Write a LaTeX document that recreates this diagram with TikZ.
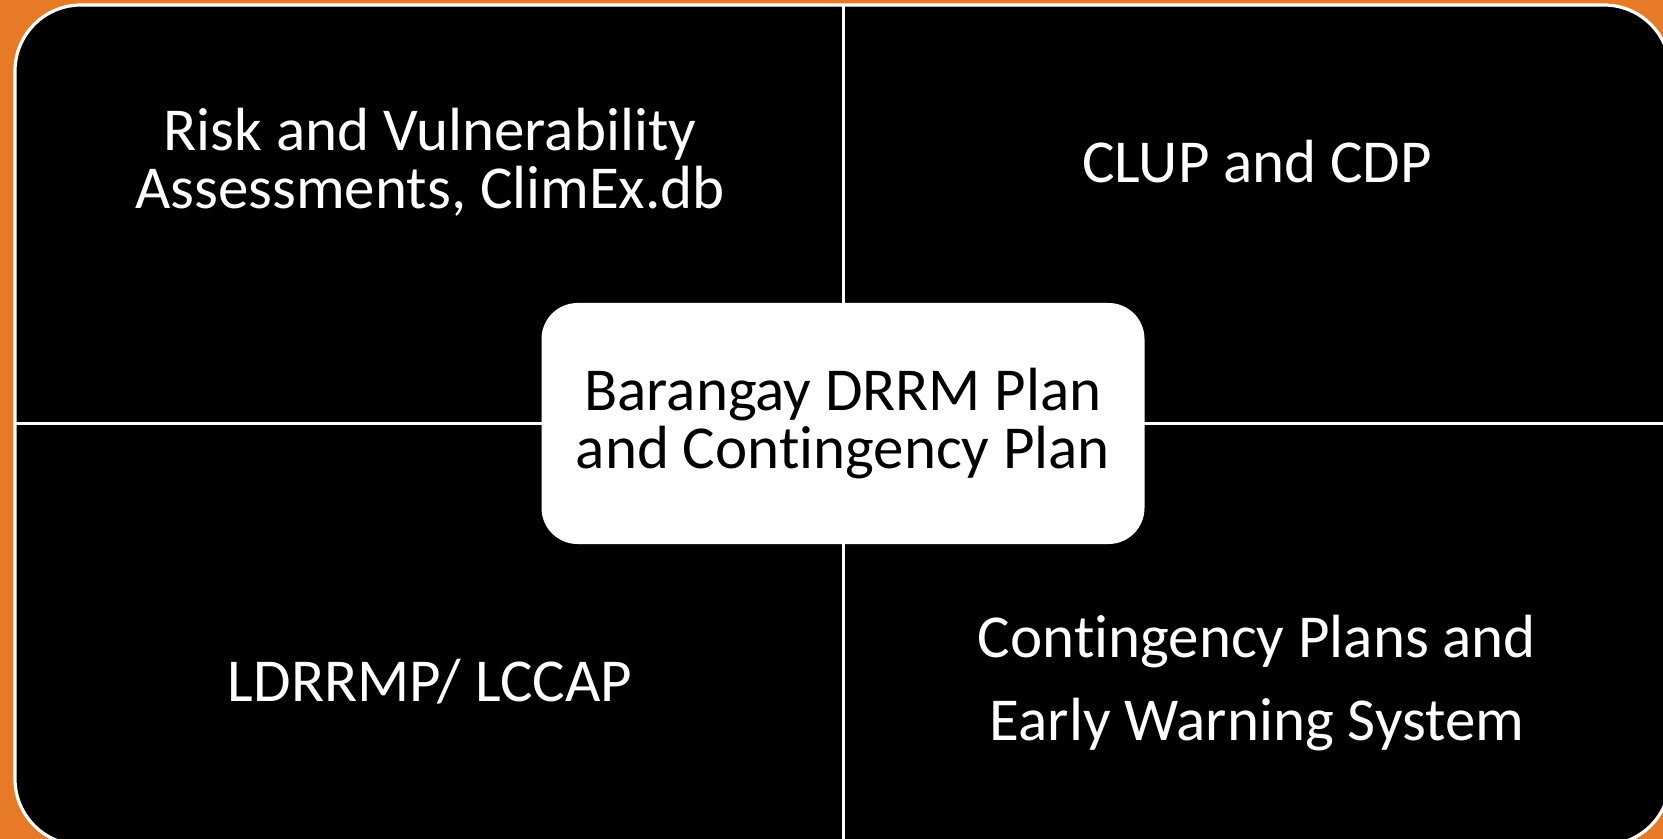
\documentclass[tikz,border=0pt]{standalone}
\usepackage{fontspec}
\setmainfont[Ligatures={NoCommon}]{Carlito}
\begin{document}
\begin{tikzpicture}[x=0.5pt,y=-0.5pt]
	\definecolor{oranz}{RGB}{230,122,38}
	\tikzstyle{ctvrt} = [text=white, align=center, font=\fontsize{30.5}{29}\selectfont]
	\tikzstyle{stred} = [rectangle, rounded corners=18pt, fill=white, minimum width=301.5pt, minimum height=120.5pt, align=center, text=black, font=\fontsize{30.5}{29}\selectfont]
	\tikzstyle{cara} = [white, line width=1.5pt]
	
	\useasboundingbox (0,0) rectangle (1663,839);
	\clip (0,0) rectangle (1663,839);
	\fill[oranz] (0,0) rectangle (1663,839);
	\draw[white, line width=1.6pt, fill=black, rounded corners=33pt] (15,5) rectangle (1670,845);
	
	\coordinate (horni) at (843,5);
	\coordinate (dolni) at (843,839);
	\coordinate (levy) at (15,423);
	\coordinate (pravy) at (1663,423);
	
	\draw [cara] (horni) -- (dolni);
	\draw [cara] (levy) -- (pravy);
	
	\node (riziko) [ctvrt] at (430,162) {Risk and Vulnerability\\Assessments, ClimEx.db};
	\node (clup) [ctvrt] at (1257,162) {CLUP and CDP};
	\node (ldrrmp) [ctvrt] at (430,682) {LDRRMP/ LCCAP};
	\node (kontin) [ctvrt] at (1257,683) {Contingency Plans and\\[12.5pt]Early Warning System};
	\node (plan) [stred] at (843,423.5) {Barangay DRRM Plan\\and Contingency Plan};
\end{tikzpicture}
\end{document}
